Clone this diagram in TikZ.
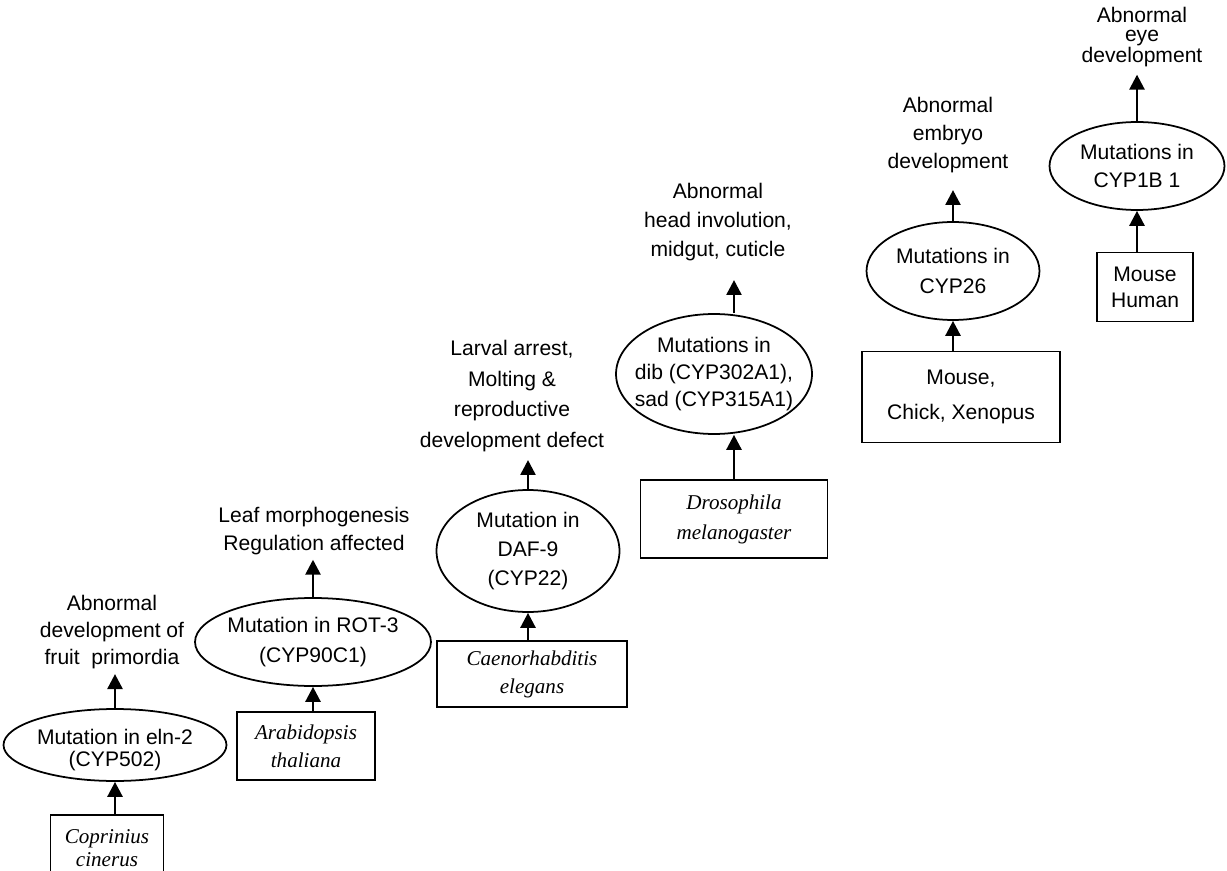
\documentclass[tikz,border=0pt]{standalone}
\usepackage{fontspec}
\setmainfont{Liberation Sans}
\newfontfamily\tmsf{Liberation Serif}
\usetikzlibrary{positioning,shapes.geometric,arrows.meta}
\newcommand\lsk[1]{\fontsize{12}{#1}\selectfont}
\tikzset{mutn/.style={draw,ellipse,line width=1pt,inner sep=0pt}  }
\tikzset{mtxt/.style={inner sep=0pt,align=center,font=\lsk{#1}},mtxt/.default=16}
\tikzset{orgn/.style={draw,rectangle,line width=1pt,inner sep=0pt,align=center,font=\tmsf\itshape\lsk{#1}},orgn/.default=16}
\tikzset{effn/.style={inner sep=2pt,align=center,font=\lsk{#1}},effn/.default=16}
\tikzset{>={Triangle[width=8.5pt,length=8.5pt]}}

\begin{document}
\begin{tikzpicture}[x=0.02cm,y=-0.02cm,line width=1.5pt]
	\useasboundingbox (0,0) rectangle (1227,871);
	% Coprinius
	\node[effn=15.6] (eff1) at (112,632) {Abnormal\\development of\\fruit~ primordia};
	\node[mutn,minimum width=4.46cm,minimum height=1.44cm,label={[mtxt=13,yshift=-0.1cm]center:Mutation in eln-2\\(CYP502)}] (mut1) at (115,745) {};
	\node[orgn=13,minimum width=2.26cm,minimum height=1.32cm] (org1) at (107,848) {Coprinius\\cinerus};
	% Arabidopsis
	\node[effn] (eff2) at (314,531) {Leaf morphogenesis\\Regulation affected};
	\node[mutn,minimum width=4.72cm,minimum height=1.76cm,label={[mtxt=17]center:Mutation in ROT-3\\(CYP90C1)}] (mut2) at (313,642) {};
	\node[orgn,minimum width=2.76cm,minimum height=1.36cm] (org2) at (306,746) {Arabidopsis\\thaliana};
	% Caenorhabditis
	\node[effn=17.4] (eff3) at (512,396) {Larval arrest,\\Molting \&\\reproductive\\development defect};
	\node[mutn,minimum width=3.66cm,minimum height=2.44cm,label={[mtxt=16.7]center:Mutation in\\DAF-9\\(CYP22)}] (mut3) at (528,551) {};
	\node[orgn,minimum width=3.8cm,minimum height=1.32cm] (org3) at (532,674) {Caenorhabditis\\elegans};
	% Drosophila
	\node[effn=16.7] (eff4) at (718,222) {Abnormal\\head involution,\\midgut, cuticle};
	\node[mutn,minimum width=3.92cm,minimum height=2.4cm,label={[mtxt=15.3]center:Mutations in\\dib (CYP302A1),\\sad (CYP315A1)}] (mut4) at (714,374) {};
	\node[orgn=17,minimum width=3.74cm,minimum height=1.56cm] (org4) at (734,519) {Drosophila\\melanogaster};
	% CYP26
	\node[effn] (eff5) at (948,135) {Abnormal\\embryo\\development};
	\node[mutn,minimum width=3.46cm,minimum height=1.96cm,label={[mtxt=17]center:Mutations in\\CYP26}] (mut5) at (953,271) {};
	\node[orgn=19.8,font=\lsk{19.8},minimum width=3.96cm,minimum height=1.82cm] (org5) at (961,397) {Mouse,\\Chick, Xenopus};
	% CYP1B1
	\node[effn=11] (eff6) at (1142,37) {Abnormal\\eye\\development};
	\node[mutn,minimum width=3.5cm,minimum height=1.76cm,label={[mtxt=16.4]center:Mutations in\\CYP1B 1}] (mut6) at (1137,166) {};
	\node[orgn,font=\lsk{14.7},minimum width=1.92cm,minimum height=1.38cm] (org6) at (1145,287) {Mouse\\Human};

	\draw[->] (org1.north -| mut1) -- (mut1);
	\draw[->] (mut1) -- (eff1.south -| mut1);
	\draw[->] (org2.north -| mut2) -- (mut2);
	\draw[->] (mut2) -- (eff2.south -| mut2);
	\draw[->] (org3.north -| mut3) -- (mut3);
	\draw[->,shorten >=2pt] (mut3) -- (eff3.south -| mut3);
	\draw[->] (org4.north) -- (org4.north |- mut4.south);
	\draw[->,shorten >=8pt] (org4.north |- mut4.north) -- (org4.north |- eff4.south);
	\draw[->] (org5.north -| mut5) -- (mut5);
	\draw[->,shorten >=7pt] (mut5) -- (eff5.south -| mut5);
	\draw[->] (org6.north -| mut6) -- (mut6);
	\draw[->,shorten >=1.5pt] (mut6) -- (eff6.south -| mut6);
\end{tikzpicture}
\end{document}
